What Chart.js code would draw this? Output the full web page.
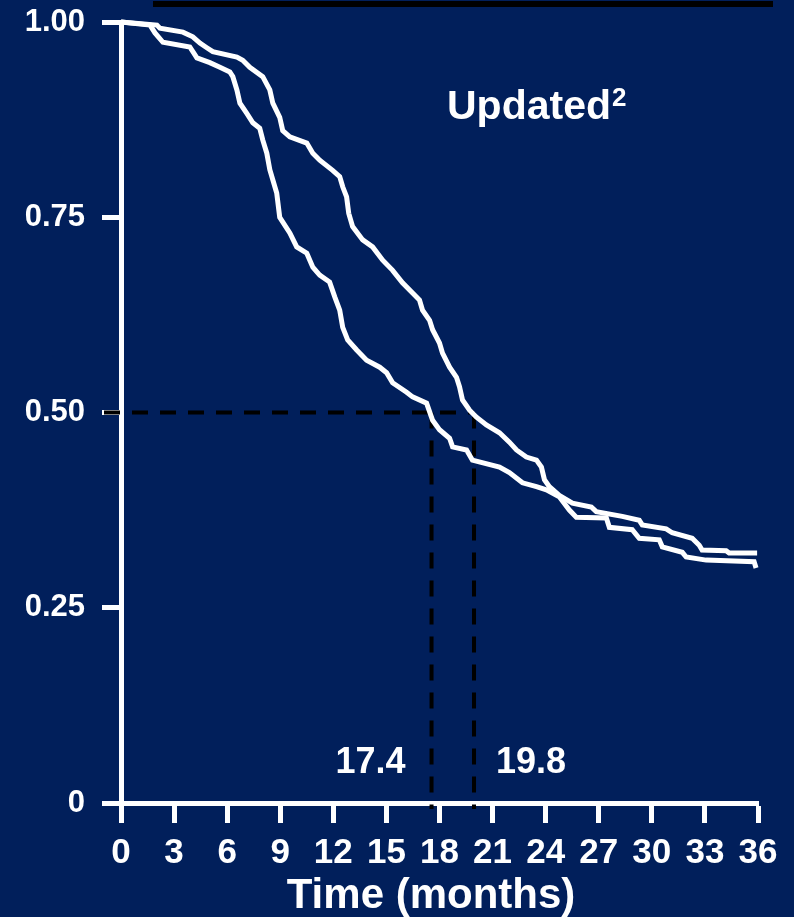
<!DOCTYPE html>
<html>
<head>
<meta charset="utf-8">
<script src="https://cdn.jsdelivr.net/npm/chart.js@4.4.1/dist/chart.umd.min.js"></script>
<style>
  html, body { margin: 0; padding: 0; background: #011f5b; }
  canvas { display: block; }
</style>
</head>
<body>
<canvas id="kmChart" width="794" height="917"></canvas>
<script>
// upper curve (median 19.8)
const monthsA = [0, 2.03, 2.20, 3.50, 4.06, 4.46, 4.85, 5.19, 6.55, 6.88, 7.28, 8.01, 8.41, 8.58, 8.97, 9.14, 9.54, 10.50, 10.84, 11.23, 11.96, 12.36, 12.53, 12.75, 12.87, 13.09, 13.66, 14.22, 14.79, 15.35, 15.91, 16.48, 16.87, 17.04, 17.44, 17.61, 18.00, 18.17, 18.57, 18.96, 19.13, 19.30, 19.70, 20.09, 20.65, 21.39, 21.95, 22.35, 22.91, 23.48, 23.76, 23.93, 24.21, 24.77, 25.51, 26.58, 26.86, 28.33, 29.29, 29.46, 30.81, 31.15, 32.28, 32.68, 32.84, 34.20, 34.37, 35.95];
const survA = [1, 0.996, 0.992, 0.987, 0.981, 0.973, 0.967, 0.962, 0.955, 0.951, 0.942, 0.930, 0.913, 0.896, 0.878, 0.861, 0.853, 0.845, 0.832, 0.823, 0.810, 0.802, 0.789, 0.776, 0.755, 0.738, 0.721, 0.712, 0.695, 0.682, 0.666, 0.653, 0.644, 0.631, 0.618, 0.606, 0.589, 0.576, 0.558, 0.545, 0.533, 0.516, 0.503, 0.494, 0.484, 0.474, 0.462, 0.452, 0.443, 0.439, 0.430, 0.414, 0.405, 0.394, 0.384, 0.379, 0.373, 0.367, 0.362, 0.356, 0.351, 0.346, 0.339, 0.330, 0.324, 0.323, 0.320, 0.320];

// lower curve (median 17.4)
const monthsB = [0, 1.64, 1.92, 2.37, 3.89, 4.29, 5.02, 5.59, 6.15, 6.32, 6.55, 6.72, 7.11, 7.45, 7.84, 8.01, 8.24, 8.41, 8.80, 8.97, 9.54, 9.93, 10.50, 10.84, 11.23, 11.79, 12.08, 12.36, 12.53, 12.81, 13.32, 13.88, 14.62, 15.01, 15.35, 16.14, 16.48, 17.27, 17.61, 18.00, 18.57, 18.74, 19.53, 19.86, 21.39, 21.95, 22.69, 23.48, 24.04, 24.77, 25.34, 25.73, 27.43, 27.60, 28.89, 29.29, 30.42, 30.59, 31.72, 31.94, 33.07, 35.78, 35.89];
const survB = [1, 0.996, 0.986, 0.974, 0.968, 0.954, 0.948, 0.942, 0.936, 0.930, 0.913, 0.896, 0.883, 0.871, 0.864, 0.849, 0.832, 0.811, 0.781, 0.750, 0.730, 0.712, 0.704, 0.686, 0.676, 0.667, 0.648, 0.631, 0.609, 0.593, 0.580, 0.567, 0.558, 0.551, 0.538, 0.526, 0.520, 0.512, 0.490, 0.478, 0.467, 0.456, 0.452, 0.439, 0.430, 0.423, 0.410, 0.405, 0.401, 0.392, 0.375, 0.366, 0.365, 0.353, 0.350, 0.339, 0.337, 0.328, 0.321, 0.315, 0.311, 0.309, 0.301];

const xTickValues = [0, 3, 6, 9, 12, 15, 18, 21, 24, 27, 30, 33, 36];
const yTickValues = [0, 0.25, 0.5, 0.75, 1];
const yTickLabels = ['0', '0.25', '0.50', '0.75', '1.00'];
const medianMonths = [17.55, 19.95];
const medianLabels = ['17.4', '19.8'];
const medianLevel = 0.5;
const xAxisTitle = 'Time (months)';
const panelTitle = 'Updated';
const panelNote = '2';

const navy = '#011f5b';
const FONT = "'Liberation Sans', Arial, sans-serif";
Chart.defaults.font.family = FONT;

function toPoints(xs, ys) {
   return xs.map((m, i) => ({ x: m, y: ys[i] }));
}

const overlayPlugin = {
   id: 'overlay',
   beforeDraw(chart) {
      const ctx = chart.ctx;
      ctx.save();
      ctx.fillStyle = navy;
      ctx.fillRect(0, 0, chart.width, chart.height);
      ctx.restore();
   },
   beforeDatasetsDraw(chart) {
      const { ctx, chartArea, scales: { x, y } } = chart;
      const yMid = y.getPixelForValue(medianLevel);
      const xs = medianMonths.map(m => x.getPixelForValue(m));
      ctx.save();
      ctx.strokeStyle = '#000';
      ctx.lineWidth = 4;
      ctx.setLineDash([16, 12]);
      ctx.beginPath();
      ctx.moveTo(chartArea.left - 17, yMid);
      ctx.lineTo(Math.max(...xs), yMid);
      ctx.stroke();
      xs.forEach(px => {
         ctx.beginPath();
         ctx.moveTo(px, yMid);
         ctx.lineTo(px, chartArea.bottom + 6);
         ctx.stroke();
      });
      ctx.restore();
   },
   afterDraw(chart) {
      const { ctx, chartArea, scales: { x } } = chart;
      const xs = medianMonths.map(m => x.getPixelForValue(m));
      ctx.save();
      ctx.fillStyle = '#fff';
      ctx.textBaseline = 'middle';
      ctx.font = 'bold 36px ' + FONT;
      ctx.textAlign = 'right';
      ctx.fillText(medianLabels[0], xs[0] - 26, chartArea.bottom - 40);
      ctx.textAlign = 'left';
      ctx.fillText(medianLabels[1], xs[1] + 22, chartArea.bottom - 40);

      // axis title, sits a little left of centre in the original
      ctx.textBaseline = 'alphabetic';
      ctx.textAlign = 'center';
      ctx.font = 'bold 42px ' + FONT;
      ctx.fillText(xAxisTitle, 431, 908);

      // panel heading with superscript
      ctx.textAlign = 'left';
      ctx.font = 'bold 41px ' + FONT;
      ctx.fillText(panelTitle, 447, 119);
      const w = ctx.measureText(panelTitle).width;
      ctx.font = 'bold 26px ' + FONT;
      ctx.fillText(panelNote, 447 + w + 1, 106);

      // black rule along the top edge
      ctx.fillStyle = '#000';
      ctx.fillRect(153, 1, 620, 6);
      ctx.restore();
   }
};

const lineStyle = {
   borderColor: '#ffffff',
   borderWidth: 5,
   pointRadius: 0,
   stepped: false,
   tension: 0,
   fill: false,
   clip: false
};

new Chart(document.getElementById('kmChart'), {
   type: 'line',
   data: {
      datasets: [
         { label: 'A', data: toPoints(monthsA, survA), ...lineStyle },
         { label: 'B', data: toPoints(monthsB, survB), ...lineStyle }
      ]
   },
   options: {
      responsive: false,
      animation: false,
      events: [],
      layout: { padding: { top: 22, right: 36, left: 0, bottom: 0 } },
      plugins: {
         legend: { display: false },
         tooltip: { enabled: false }
      },
      scales: {
         x: {
            type: 'linear',
            min: 0,
            max: 36,
            afterBuildTicks: (scale) => { scale.ticks = xTickValues.map(v => ({ value: v })); },
            afterFit: (scale) => { scale.height = 114; },
            border: { display: true, color: '#fff', width: 5 },
            grid: { drawOnChartArea: false, drawTicks: true, tickLength: 20, tickWidth: 5, tickColor: '#fff' },
            ticks: {
               color: '#fff',
               font: { size: 35, weight: 'bold' },
               padding: 9,
               maxRotation: 0,
               autoSkip: false
            }
         },
         y: {
            type: 'linear',
            min: 0,
            max: 1,
            afterBuildTicks: (scale) => { scale.ticks = yTickValues.map(v => ({ value: v })); },
            afterFit: (scale) => {
               scale.width = 121;
               scale.paddingTop = 0;
               scale.paddingBottom = 0;
            },
            border: { display: true, color: '#fff', width: 5 },
            grid: { drawOnChartArea: false, drawTicks: true, tickLength: 19, tickWidth: 5, tickColor: '#fff' },
            ticks: {
               color: '#fff',
               font: { size: 31, weight: 'bold' },
               padding: 17,
               callback: (value) => yTickLabels[yTickValues.indexOf(value)]
            }
         }
      }
   },
   plugins: [overlayPlugin]
});
</script>
</body>
</html>
